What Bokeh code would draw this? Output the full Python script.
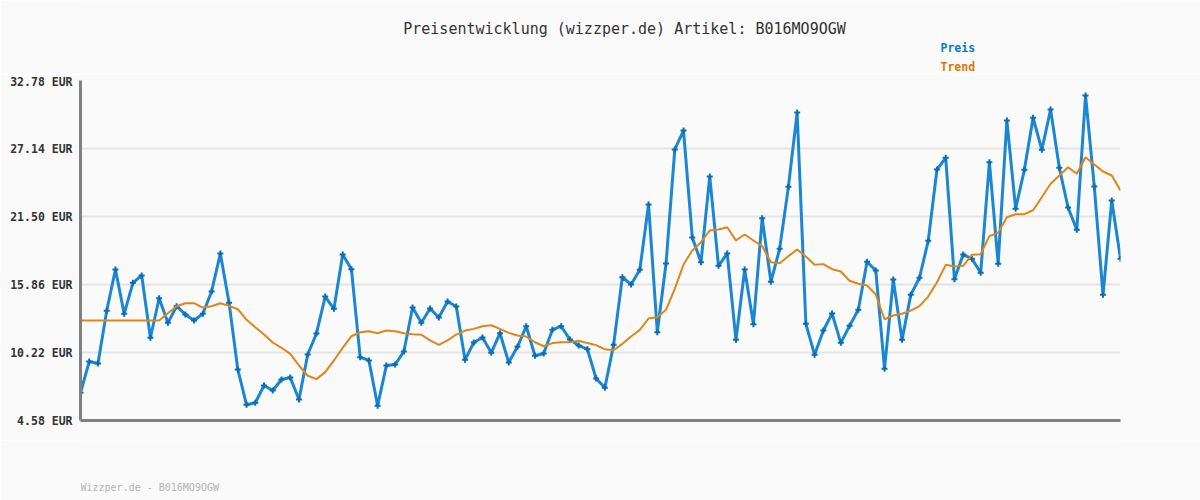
from bokeh.plotting import figure
from bokeh.layouts import column
from bokeh.models import Range1d, FixedTicker, Label
from bokeh.embed import file_html
from bokeh.resources import INLINE

title_text = "Preisentwicklung (wizzper.de) Artikel: B016MO9OGW"
footer_text = "Wizzper.de - B016MO9OGW"
series_names = ["Preis", "Trend"]

preis = [6.88, 9.47, 9.31, 13.68, 17.10, 13.43, 16.00, 16.61, 11.44, 14.72,
         12.68, 14.06, 13.37, 12.87, 13.43, 15.28, 18.43, 14.34, 8.81, 5.88,
         6.05, 7.48, 7.07, 7.98, 8.15, 6.32, 10.05, 11.80, 14.86, 13.84,
         18.35, 17.13, 9.83, 9.56, 5.80, 9.14, 9.22, 10.30, 13.95, 12.68,
         13.87, 13.12, 14.45, 14.04, 9.61, 11.05, 11.46, 10.19, 11.82, 9.39,
         10.69, 12.40, 9.95, 10.14, 12.10, 12.40, 11.30, 10.80, 10.49, 8.06,
         7.29, 10.86, 16.47, 15.86, 17.08, 22.50, 11.90, 17.60, 27.06, 28.63,
         19.76, 17.71, 24.82, 17.41, 18.43, 11.27, 17.10, 12.57, 21.36, 16.08,
         18.82, 23.96, 30.13, 12.60, 10.03, 12.04, 13.45, 11.02, 12.43, 13.76,
         17.74, 17.02, 8.87, 16.27, 11.27, 15.00, 16.42, 19.48, 25.40, 26.37,
         16.30, 18.35, 17.99, 16.83, 26.00, 17.58, 29.46, 22.14, 25.37, 29.69,
         27.03, 30.37, 25.54, 22.25, 20.40, 31.54, 23.99, 15.00, 22.83, 17.99]

trend = [12.87, 12.87, 12.87, 12.87, 12.87, 12.87, 12.87, 12.87, 12.87, 12.87,
         13.48, 14.06, 14.31, 14.31, 13.95, 14.06, 14.31, 14.09, 13.81, 12.93,
         12.32, 11.71, 11.05, 10.61, 10.11, 9.14, 8.29, 8.01, 8.59, 9.56,
         10.60, 11.57, 11.90, 11.99, 11.82, 12.04, 11.99, 11.82, 11.74, 11.69,
         11.22, 10.86, 11.22, 11.71, 12.04, 12.18, 12.40, 12.48, 12.18, 11.85,
         11.63, 11.55, 11.07, 10.74, 11.00, 11.07, 11.07, 11.19, 11.00, 10.83,
         10.48, 10.41, 10.94, 11.55, 12.10, 13.04, 13.15, 13.76, 15.50, 17.52,
         18.68, 19.37, 20.34, 20.42, 20.61, 19.51, 20.01, 19.51, 19.04, 17.71,
         17.63, 18.21, 18.76, 18.18, 17.49, 17.55, 17.13, 16.94, 16.17, 15.92,
         15.78, 15.03, 12.98, 13.29, 13.43, 13.70, 14.06, 14.86, 16.05, 17.49,
         17.35, 17.41, 18.32, 18.37, 19.87, 20.15, 21.44, 21.69, 21.69, 22.02,
         23.10, 24.21, 24.90, 25.59, 25.04, 26.42, 25.81, 25.23, 24.90, 23.66]

y_ticks = [4.58, 10.22, 15.86, 21.50, 27.14, 32.78]
y_tick_labels = ["4.58 EUR", "10.22 EUR", "15.86 EUR", "21.50 EUR", "27.14 EUR", "32.78 EUR"]

x = list(range(len(preis)))

BG = "#fafafa"
MONO = "DejaVu Sans Mono"
W = 1200
FRAME_L, FRAME_R = 80, 1120


def text_strip(h):
    # frames in a column are aligned with the chart frame, so map data x to page pixels
    f = figure(width=W, height=h, output_backend="svg", toolbar_location=None,
               x_range=Range1d(FRAME_L, FRAME_R), y_range=Range1d(h, 0),
               x_axis_type=None, y_axis_type=None,
               min_border_left=0, min_border_right=0, min_border_top=0, min_border_bottom=0,
               background_fill_color=BG, border_fill_color=BG, outline_line_color=None)
    f.xgrid.visible = False
    f.ygrid.visible = False
    return f


HEAD_H = 74
head = text_strip(HEAD_H)
head.add_layout(Label(x=624, y=28, text=title_text, text_font=MONO,
                      text_font_size="15px", text_color="#333333",
                      text_align="center", text_baseline="middle"))
head.add_layout(Label(x=940, y=47, text=series_names[0], text_font=MONO,
                      text_font_size="11.5px", text_font_style="bold", text_color="#0a7ac6",
                      text_align="left", text_baseline="middle"))
head.add_layout(Label(x=940, y=66.5, text=series_names[1], text_font=MONO,
                      text_font_size="11.5px", text_font_style="bold", text_color="#db7800",
                      text_align="left", text_baseline="middle"))

# main chart
p = figure(width=W, height=(80 - HEAD_H) + 340 + 20, output_backend="svg", toolbar_location=None,
           x_range=Range1d(0, len(preis) - 1), y_range=Range1d(y_ticks[0], y_ticks[-1]),
           min_border_left=80, min_border_right=80, min_border_top=80 - HEAD_H, min_border_bottom=20,
           background_fill_color=BG, border_fill_color=BG, outline_line_color=None)

p.xgrid.grid_line_color = None
p.ygrid.grid_line_color = "#e4e4e4"
p.ygrid.grid_line_width = 2

p.yaxis.ticker = FixedTicker(ticks=y_ticks)
p.yaxis.major_label_overrides = {t: l for t, l in zip(y_ticks, y_tick_labels)}
p.yaxis.major_label_text_font = MONO
p.yaxis.major_label_text_font_style = "bold"
p.yaxis.major_label_text_font_size = "11.5px"
p.yaxis.major_label_text_color = "#333333"
p.yaxis.major_label_standoff = 8
for ax in (p.xaxis, p.yaxis):
    ax.axis_line_color = "#808080"
    ax.axis_line_width = 3
    ax.major_tick_line_color = None
    ax.minor_tick_line_color = None
    ax.major_tick_out = 0
    ax.major_tick_in = 0
p.xaxis.ticker = FixedTicker(ticks=[])
p.xaxis.major_label_text_font_size = "0px"

p.line(x, preis, line_color="#1b87d2", line_width=3)
p.scatter(x, preis, marker="cross", size=6, line_color="#0a6db5", line_width=2)
p.line(x, trend, line_color="#e08518", line_width=2)

# footer strip
FOOT_H = 60
foot = text_strip(FOOT_H)
foot.add_layout(Label(x=80, y=487 - (500 - FOOT_H), text=footer_text, text_font=MONO,
                      text_font_size="10px", text_color="#b4b4b4",
                      text_align="left", text_baseline="middle"))

layout = column(head, p, foot, spacing=0)
open("out.html", "w").write(file_html(layout, INLINE))
